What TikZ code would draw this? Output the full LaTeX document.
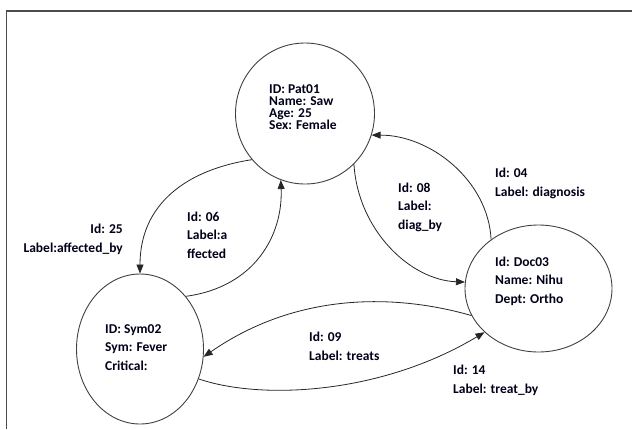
\documentclass[tikz,border=0pt]{standalone}
\usepackage{fontspec}
\setmainfont{Carlito}
\usetikzlibrary{arrows.meta,shapes.geometric}
\begin{document}
\begin{tikzpicture}[x=1pt,y=-1pt,
  entity/.style={draw=black!75,line width=0.9pt,ellipse,inner sep=0pt},
  txt/.style={font=\bfseries\fontsize{13.5}{18.7}\selectfont,align=left,inner sep=0pt,anchor=base west,text=black!90!blue},
  edge/.style={draw=black!85,line width=0.8pt,-{Triangle[length=9pt,width=7pt]}},
  frame/.style={draw=black!70,line width=1.3pt}]
\useasboundingbox (0,0) rectangle (632,429);
\coordinate (ftr) at (632,11);
\coordinate (ftl) at (6.5,11);
\coordinate (fbl) at (6.5,429);
\draw[frame] (ftr) -- (ftl) -- (fbl);
% entities
\node[entity,minimum width=139pt,minimum height=141pt] (pat) at (305,113.5) {};
\node[entity,minimum width=127pt,minimum height=150pt] (sym) at (140,349) {};
\node[entity,minimum width=147pt,minimum height=127pt] (doc) at (538.5,288.5) {};
% entity texts (anchored at the baseline of the last line)
\node[txt,font=\bfseries\fontsize{13.5}{12}\selectfont] (pattxt) at (269,129.5) {ID: Pat01\\Name: Saw\\Age: 25\\Sex: Female};
\node[txt] (symtxt) at (105,370.5) {ID: Sym02\\Sym: Fever\\Critical:};
\node[txt] (doctxt) at (495,303.5) {Id: Doc03\\Name: Nihu\\Dept: Ortho};
% edge labels
\node[txt,anchor=base east,align=right] (l25) at (123,252.5) {Id: 25\\Label:affected\_by};
\node[txt] (l06) at (187,258.5) {Id: 06\\Label:a\\ffected};
\node[txt] (l08) at (398,229.5) {Id: 08\\Label:\\diag\_by};
\node[txt] (l04) at (495,196.5) {Id: 04\\Label: diagnosis};
\node[txt] (l09) at (309,360.5) {Id: 09\\Label: treats};
\node[txt] (l14) at (453,393.5) {Id: 14\\Label: treat\_by};
% connectors
\draw[edge] (pat.221.4) .. controls (185,170) and (140,205) .. (sym.north);
\draw[edge] (sym.49.6) .. controls (255,287) and (283,235) .. (pat.250);
\draw[edge] (pat.314.7) .. controls (358,230) and (410,280) .. (doc.175.7);
\draw[edge] (doc.134.5) .. controls (488,180) and (430,135) .. (pat.342.7);
\draw[edge] (doc.202) .. controls (400,295) and (300,290) .. (sym.-7.2);
\draw[edge] (sym.-27.3) .. controls (260,400) and (380,395) .. (doc.219);
\end{tikzpicture}
\end{document}
